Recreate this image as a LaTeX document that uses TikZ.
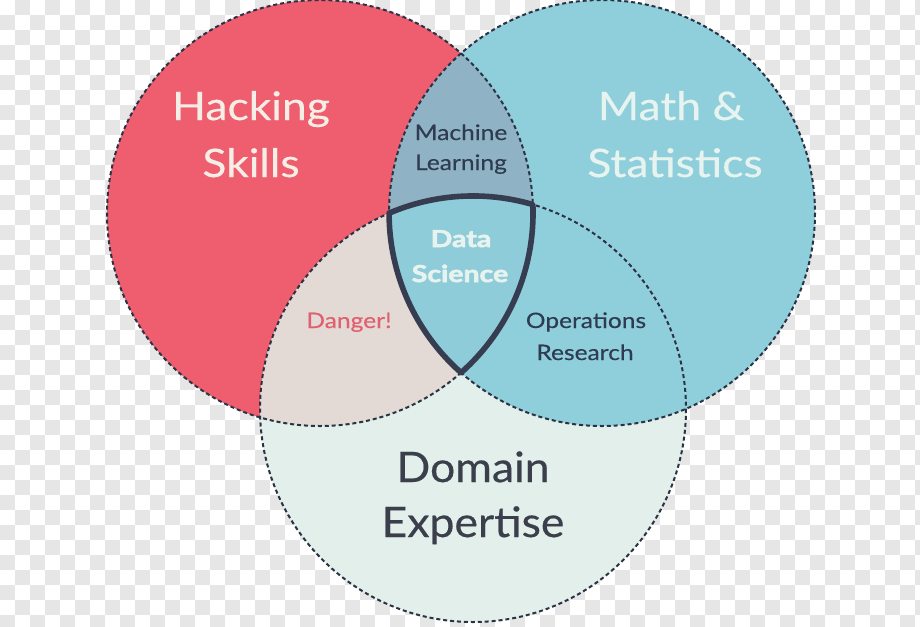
\documentclass[tikz,border=0pt]{standalone}
\usepackage{fontspec}
\setmainfont{Lato}
\newfontfamily\bigfont{Lato}[FakeStretch=1.13, FakeBold=0.4]
\newfontfamily\domfont{Lato}[FakeStretch=1.06, FakeBold=0.4]
\newfontfamily\smallfont{Lato}[FakeStretch=1.15, FakeBold=0.3]
\newfontfamily\dsfont{Lato}[FakeStretch=1.22, BoldFeatures={FakeBold=2.6}]
\definecolor{redc}{HTML}{EE5E6F}
\definecolor{bluec}{HTML}{8FCFDC}
\definecolor{mlc}{HTML}{90B2C5}
\definecolor{beigec}{HTML}{E3D9D5}
\definecolor{mintc}{HTML}{E3EFEA}
\definecolor{dsc}{HTML}{8ECCD9}
\definecolor{dashc}{HTML}{2A3344}
\definecolor{shieldc}{HTML}{363D50}
\definecolor{lighttext}{HTML}{F4EEE6}
\definecolor{mathtext}{HTML}{E6F3EF}
\definecolor{navytext}{HTML}{2E3B50}
\definecolor{dangertext}{HTML}{E0606F}
\definecolor{domaintext}{HTML}{3A3F4B}
\definecolor{chkc}{HTML}{E6E6E6}
\tikzset{
  dashline/.style={draw=dashc, line width=1.5pt, dash pattern=on 3pt off 2.2pt},
  bigtext/.style={anchor=base, inner sep=0pt, font=\bigfont\fontsize{29.5}{30}\selectfont},
  domtext/.style={anchor=base, inner sep=0pt, font=\domfont\fontsize{31.5}{32}\selectfont, text=domaintext},
  smalltext/.style={anchor=base, inner sep=0pt, font=\smallfont\fontsize{16}{17}\selectfont},
  dstext/.style={anchor=base, inner sep=0pt, font=\dsfont\bfseries\fontsize{17.5}{18}\selectfont, text=mathtext},
}
\begin{document}
\begin{tikzpicture}[x=0.75pt, y=-0.75pt]
\useasboundingbox (0,0) rectangle (920,626);
% checkerboard background
\fill[white] (0,0) rectangle (920,626);
\foreach \j in {0,...,41}{
  \pgfmathtruncatemacro\off{mod(\j+1,2)}
  \foreach \k in {0,...,30}{
    \fill[chkc] ({15*(2*\k+\off)},{15*\j}) rectangle ++(15,15);
  }
}
% circle centres
\coordinate (rc) at (320,213);
\coordinate (bc) at (602,213);
\coordinate (dc) at (473,409);
\coordinate (tl) at (389,213.2);
\def\redpath{(rc) circle[radius=213]}
\def\bluepath{(bc) circle[radius=213]}
\def\dompath{(dc) circle[radius=213]}
% fills
\fill[redc] \redpath;
\fill[bluec] \bluepath;
\begin{scope}
  \clip \redpath;
  \fill[mlc] \bluepath;
\end{scope}
\fill[mintc] \dompath;
\begin{scope}
  \clip \redpath;
  \fill[beigec] \dompath;
\end{scope}
\begin{scope}
  \clip \bluepath;
  \fill[bluec] \dompath;
\end{scope}
% data science region
\fill[dsc] (tl) arc[start angle=-113.22, end angle=-73.67, radius=213]
  arc[start angle=-2.29, end angle=48.54, radius=213]
  arc[start angle=131.46, end angle=180, radius=213] -- cycle;
% dashed outlines
\draw[dashline] \redpath;
\draw[dashline] \bluepath;
\draw[dashline] \dompath;
% shield outline
\draw[draw=shieldc, line width=4.2pt, line join=round]
  (tl) arc[start angle=-113.22, end angle=-73.67, radius=213]
  arc[start angle=-2.29, end angle=48.54, radius=213]
  arc[start angle=131.46, end angle=180, radius=213] -- cycle;
% labels
\node[bigtext, text=lighttext] (hack1) at (251,120) {Hacking};
\node[bigtext, text=lighttext] (hack2) at (251,177) {Skills};
\node[bigtext, text=mathtext] (math1) at (671,120) {Math \&};
\node[bigtext, text=mathtext] (math2) at (675,177) {Statistics};
\node[smalltext, text=navytext] (ml1) at (461,140) {Machine};
\node[smalltext, text=navytext] (ml2) at (461,170) {Learning};
\node[dstext] (ds1) at (461,247) {Data};
\node[dstext] (ds2) at (460,282) {Science};
\node[smalltext, text=dangertext] (danger) at (349,328) {Danger!};
\node[smalltext, text=navytext] (or1) at (586,328) {Operations};
\node[smalltext, text=navytext] (or2) at (585,360) {Research};
\node[domtext] (dom1) at (473,482) {Domain};
\node[domtext] (dom2) at (473,537) {Expertise};
\end{tikzpicture}
\end{document}
